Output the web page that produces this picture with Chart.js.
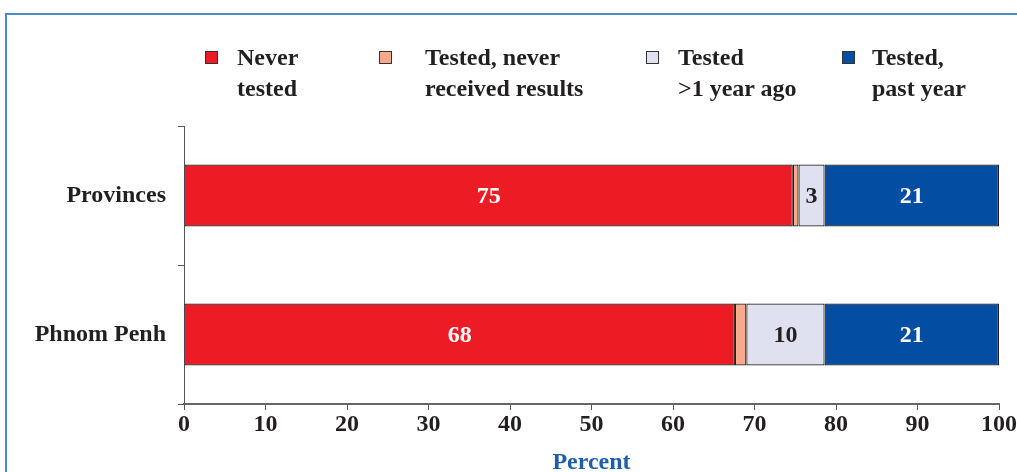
<!DOCTYPE html>
<html>
<head>
<meta charset="utf-8">
<script src="https://cdn.jsdelivr.net/npm/chart.js@4/dist/chart.umd.min.js"></script>
<style>
  html, body { margin: 0; padding: 0; background: #fff; }
  #wrap { position: relative; width: 1017px; height: 472px; overflow: hidden; }
  #frame { position: absolute; left: 5px; top: 13px; width: 1100px; height: 600px;
           border-left: 2px solid #4a86c8; border-top: 2px solid #4a86c8; }
  canvas { position: absolute; left: 0; top: 0; }
  .lg { position: absolute; font-family: "Liberation Serif", "DejaVu Serif", serif; font-weight: bold;
        font-size: 24px; line-height: 31px; color: #231f20; white-space: nowrap; }
  .sw { position: absolute; width: 11px; height: 11px; border: 1px solid #333; }
</style>
</head>
<body>
<div id="wrap">
  <div id="frame"></div>
  <canvas id="c" width="1017" height="472"></canvas>
  <div id="legend"></div>
</div>
<script>
const categories = ["Provinces", "Phnom Penh"];
const seriesNames = [["Never", "tested"], ["Tested, never", "received results"], ["Tested", ">1 year ago"], ["Tested,", "past year"]];
const neverTested = [74.7, 67.6];
const testedNoResults = [0.7, 1.4];
const testedOverYear = [3.2, 9.6];
const testedPastYear = [21.4, 21.4];
const xTicks = [0, 10, 20, 30, 40, 50, 60, 70, 80, 90, 100];

const colors = ["#ed1c24", "#f9a98b", "#e0e1f0", "#034ea2"];
const labelColors = ["#ffffff", null, "#231f20", "#ffffff"];
const FONT = '"Liberation Serif", "DejaVu Serif", serif';

// HTML legend
const legendPos = [
  { sw: 205, tx: 237 },
  { sw: 379, tx: 425 },
  { sw: 646, tx: 678 },
  { sw: 842, tx: 872 }
];
const lg = document.getElementById('legend');
seriesNames.forEach((lines, i) => {
  const s = document.createElement('div');
  s.className = 'sw';
  s.style.left = legendPos[i].sw + 'px';
  s.style.top = '51px';
  s.style.background = colors[i];
  lg.appendChild(s);
  const t = document.createElement('div');
  t.className = 'lg';
  t.style.left = legendPos[i].tx + 'px';
  t.style.top = '42px';
  t.innerHTML = lines.map(l => l.replace(/&/g,'&amp;').replace(/</g,'&lt;').replace(/>/g,'&gt;')).join('<br>');
  lg.appendChild(t);
});

const valueLabels = {
  id: 'valueLabels',
  afterDatasetsDraw(chart) {
    const ctx = chart.ctx;
    ctx.save();
    ctx.font = 'bold 24px ' + FONT;
    ctx.textAlign = 'center';
    ctx.textBaseline = 'middle';
    chart.data.datasets.forEach((ds, di) => {
      if (!labelColors[di]) return;
      const meta = chart.getDatasetMeta(di);
      meta.data.forEach((el, i) => {
        const cx = (el.x + el.base) / 2;
        ctx.fillStyle = labelColors[di];
        ctx.fillText(String(Math.round(ds.data[i])), cx, el.y + 1);
      });
    });
    ctx.restore();
  }
};

const seriesData = [neverTested, testedNoResults, testedOverYear, testedPastYear];

new Chart(document.getElementById('c'), {
  type: 'bar',
  data: {
    labels: categories,
    datasets: seriesData.map((d, i) => ({
      label: seriesNames[i].join(' '),
      data: d,
      backgroundColor: colors[i],
      borderColor: '#1e1e1e',
      borderWidth: 1.2,
      borderSkipped: false,
      barPercentage: 0.446,
      categoryPercentage: 1
    }))
  },
  options: {
    indexAxis: 'y',
    responsive: false,
    animation: false,
    devicePixelRatio: 1,
    layout: { padding: { top: 126, right: 16, left: 0, bottom: 0 } },
    plugins: { legend: { display: false }, tooltip: { enabled: false } },
    scales: {
      x: {
        stacked: true,
        min: 0, max: 100,
        afterBuildTicks(scale) { scale.ticks = xTicks.map(v => ({ value: v })); },
        afterFit(scale) { scale.height = 68; },
        ticks: { font: { family: FONT, size: 24, weight: 'bold' }, color: '#231f20', padding: 0, maxRotation: 0 },
        grid: { drawOnChartArea: false, tickLength: 6, color: '#555' },
        border: { color: '#666', width: 2 },
        title: { display: true, text: 'Percent', color: '#1f5fa8',
                 font: { family: FONT, size: 24, weight: 'bold' }, padding: { top: 8, bottom: -5 } }
      },
      y: {
        stacked: true,
        afterFit(scale) { scale.width = 184; },
        ticks: { font: { family: FONT, size: 24, weight: 'bold' }, color: '#231f20', padding: 12 },
        grid: { offset: true, drawOnChartArea: false, tickLength: 6, color: '#555' },
        border: { color: '#555', width: 1 }
      }
    }
  },
  plugins: [valueLabels]
});
</script>
</body>
</html>
